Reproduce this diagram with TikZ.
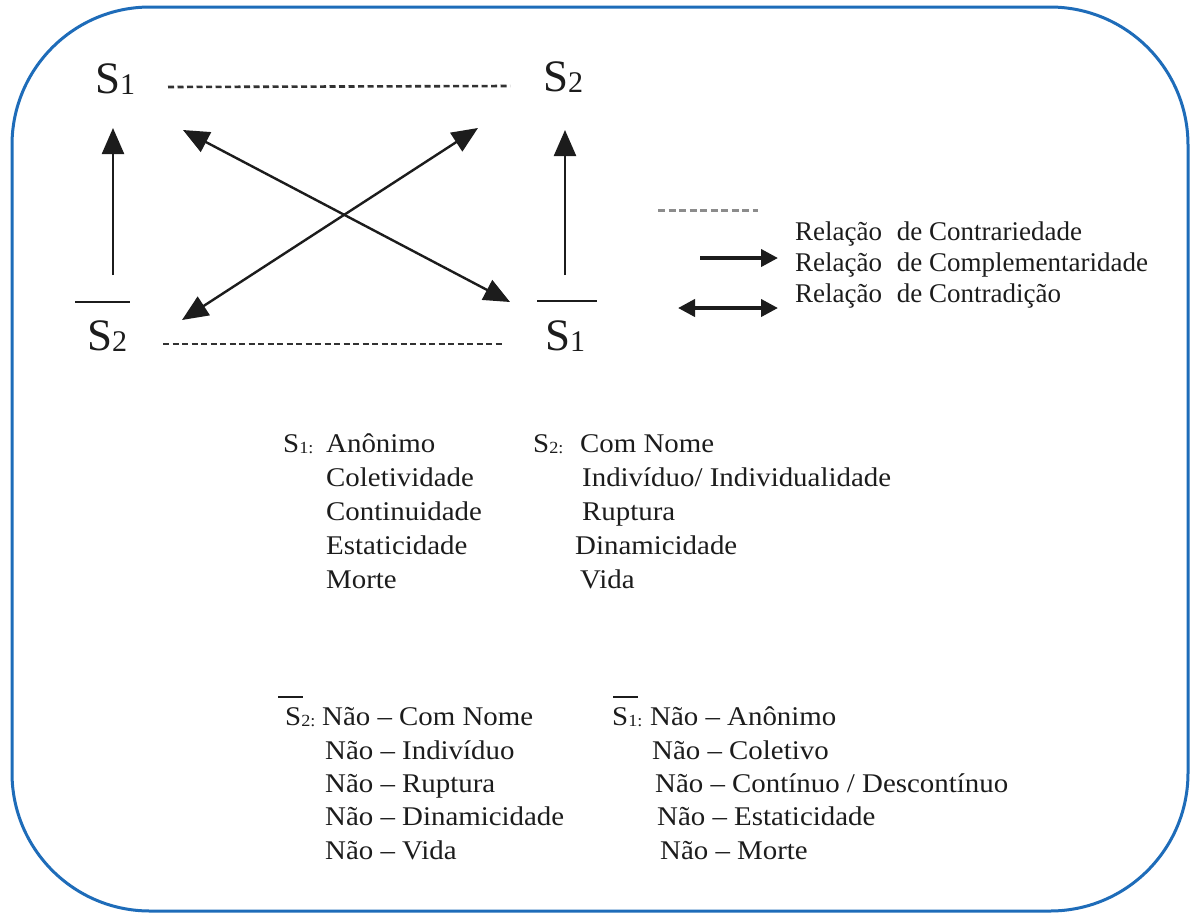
\documentclass[tikz,border=0pt]{standalone}
\usepackage{fontspec}
\setmainfont{Liberation Serif}
\newfontfamily\blockfont[FakeStretch=1.07]{Liberation Serif}
\usetikzlibrary{arrows.meta}
\definecolor{frameblue}{RGB}{30,108,185}
\definecolor{ink}{RGB}{28,28,28}
\definecolor{dotgray}{RGB}{50,50,50}
\definecolor{leggray}{RGB}{140,140,140}
\newcommand{\bigS}[1]{{\fontsize{45}{45}\selectfont S\raisebox{-1pt}{\fontsize{30}{30}\selectfont #1}}}
\newcommand{\smS}[1]{S{\fontsize{17}{17}\selectfont\raisebox{-1pt}{#1:}}}
\tikzset{
  framebox/.style={draw=frameblue, line width=3pt, rounded corners=138pt},
  biglabel/.style={anchor=base west, inner sep=0pt, text=ink},
  txt/.style={anchor=base west, inner sep=0pt, text=ink, font=\blockfont\fontsize{27}{27}\selectfont},
  legtxt/.style={anchor=base west, inner sep=0pt, text=ink, font=\fontsize{27}{27}\selectfont},
  contrary/.style={draw=dotgray, line width=2.6pt, dash pattern=on 6pt off 3.5pt},
  compl/.style={draw=ink, line width=2.4pt, -{Triangle[length=26pt,width=22pt]}},
  contra/.style={draw=ink, line width=2.4pt, {Triangle[length=26pt,width=22pt]}-{Triangle[length=26pt,width=22pt]}},
  barline/.style={draw=ink, line width=2.6pt},
  smallbar/.style={draw=ink, line width=2pt},
}
\begin{document}
\begin{tikzpicture}[x=1pt,y=-1pt]
\useasboundingbox (0,0) rectangle (1192,914);
\fill[white] (0,0) rectangle (1192,914);
\draw[framebox] (12,7) rectangle (1188,911);

% square labels
\node[biglabel] (s1) at (95,93) {\bigS{1}};
\node[biglabel] (s2) at (543,91) {\bigS{2}};
\node[biglabel] (s2b) at (87,350) {\bigS{2}};
\node[biglabel] (s1b) at (545,350) {\bigS{1}};
\draw[barline] (75,302) -- (130,302);
\draw[barline] (537,301) -- (597,301);

% connector end points
\coordinate (ctop1) at (168,87);
\coordinate (ctop2) at (510,86);
\coordinate (cbot1) at (163,344);
\coordinate (cbot2) at (505,344);
\coordinate (lup0) at (113,275);
\coordinate (lup1) at (113,128);
\coordinate (rup0) at (565,275);
\coordinate (rup1) at (565,130);
\coordinate (da) at (183,130);
\coordinate (db) at (510,302);
\coordinate (dc) at (478,128);
\coordinate (dd) at (182,320);

\draw[contrary] (ctop1) -- (ctop2);
\draw[contrary] (cbot1) -- (cbot2);
\draw[compl] (lup0) -- (lup1);
\draw[compl] (rup0) -- (rup1);
\draw[contra] (da) -- (db);
\draw[contra] (dc) -- (dd);

% legend
\coordinate (lg1a) at (658,210);
\coordinate (lg1b) at (758,210);
\coordinate (lg2a) at (700,258);
\coordinate (lg2b) at (778,258);
\coordinate (lg3a) at (678,308);
\coordinate (lg3b) at (778,308);
\draw[draw=leggray, line width=3pt, dash pattern=on 7pt off 3.5pt] (lg1a) -- (lg1b);
\draw[draw=ink, line width=4pt, -{Triangle[length=17pt,width=17pt]}] (lg2a) -- (lg2b);
\draw[draw=ink, line width=4pt, {Triangle[length=17pt,width=17pt]}-{Triangle[length=17pt,width=17pt]}] (lg3a) -- (lg3b);
\node[legtxt] (leg1) at (795,240) {Relação\hspace{8pt} de Contrariedade};
\node[legtxt] (leg2) at (795,271) {Relação\hspace{8pt} de Complementaridade};
\node[legtxt] (leg3) at (795,302) {Relação\hspace{8pt} de Contradição};

% top text block
\node[txt] (a0) at (283,452) {\smS{1}};
\node[txt] (a1) at (326,452) {Anônimo};
\node[txt] (a2) at (326,486) {Coletividade};
\node[txt] (a3) at (326,520) {Continuidade};
\node[txt] (a4) at (326,554) {Estaticidade};
\node[txt] (a5) at (326,588) {Morte};
\node[txt] (b0) at (533,452) {\smS{2}};
\node[txt] (b1) at (580,452) {Com Nome};
\node[txt] (b2) at (582,486) {Indivíduo/ Individualidade};
\node[txt] (b3) at (582,520) {Ruptura};
\node[txt] (b4) at (575,554) {Dinamicidade};
\node[txt] (b5) at (580,588) {Vida};

% bottom text block
\node[txt] (c0) at (285,725) {\smS{2}};
\draw[smallbar] (278,697) -- (303,697);
\node[txt] (c1) at (322,725) {Não – Com Nome};
\node[txt] (c2) at (325,759) {Não – Indivíduo};
\node[txt] (c3) at (325,792) {Não – Ruptura};
\node[txt] (c4) at (325,825) {Não – Dinamicidade};
\node[txt] (c5) at (325,859) {Não – Vida};
\node[txt] (d0) at (612,725) {\smS{1}};
\draw[smallbar] (613,697) -- (638,697);
\node[txt] (d1) at (650,725) {Não – Anônimo};
\node[txt] (d2) at (652,759) {Não – Coletivo};
\node[txt] (d3) at (655,792) {Não – Contínuo / Descontínuo};
\node[txt] (d4) at (657,825) {Não – Estaticidade};
\node[txt] (d5) at (660,859) {Não – Morte};
\end{tikzpicture}
\end{document}
